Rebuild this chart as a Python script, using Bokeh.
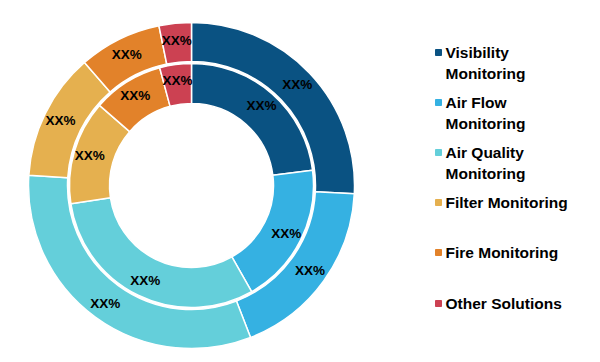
import math
from bokeh.plotting import figure
from bokeh.models import Range1d, ColumnDataSource
from bokeh.core.properties import value
from bokeh.embed import file_html
from bokeh.resources import INLINE

categories = ["Visibility Monitoring", "Air Flow Monitoring", "Air Quality Monitoring",
              "Filter Monitoring", "Fire Monitoring", "Other Solutions"]
legend_lines = [["Visibility", "Monitoring"], ["Air Flow", "Monitoring"], ["Air Quality", "Monitoring"],
                ["Filter Monitoring"], ["Fire Monitoring"], ["Other Solutions"]]
colors = ["#0A5282", "#35B1E2", "#64CFDA", "#E5B04F", "#E2822A", "#CC4152"]
outer_share = [25.8, 18.3, 31.9, 12.6, 8.2, 3.2]
inner_share = [23.0, 18.8, 30.8, 13.8, 9.4, 4.2]
outer_labels = ["XX%"] * 6
inner_labels = ["XX%"] * 6

W, H = 592, 354
cx, cy = 191, 169
R_OUT, R_MID_O, R_MID_I, R_IN = 163, 124, 122, 82

p = figure(width=W, height=H, output_backend="svg", toolbar_location=None,
           x_range=Range1d(0, W), y_range=Range1d(0, H), min_border=0)
p.axis.visible = False
p.grid.visible = False
p.outline_line_color = None
p.background_fill_color = "white"
p.border_fill_color = "white"


def ring(shares, r_in, r_out, lab_r, labels):
    tot = sum(shares)
    starts, ends, mids = [], [], []
    c = 0.0
    for s in shares:
        a0 = math.pi / 2 - 2 * math.pi * c / tot
        c += s
        a1 = math.pi / 2 - 2 * math.pi * c / tot
        starts.append(a0)
        ends.append(a1)
        mids.append((a0 + a1) / 2)
    src = ColumnDataSource(dict(start=starts, end=ends, color=colors))
    p.annular_wedge(x=cx, y=cy, inner_radius=r_in, outer_radius=r_out,
                    start_angle="start", end_angle="end", direction="clock",
                    fill_color="color", line_color="white", line_width=1.5, source=src)
    lx = [cx + lab_r * math.cos(m) for m in mids]
    ly = [cy + lab_r * math.sin(m) for m in mids]
    p.text(x=lx, y=ly, text=labels, text_align="center", text_baseline="middle",
           text_font=value("Liberation Sans"), text_font_style="bold",
           text_font_size="13.5px", text_color="black")


ring(outer_share, R_MID_O, R_OUT, 146, outer_labels)
ring(inner_share, R_IN, R_MID_I, 106, inner_labels)

# legend
lg_x = 438
first_y = [302, 252, 202, 152, 102, 51]
line_gap = 20.5
for i, (lines, col) in enumerate(zip(legend_lines, colors)):
    y0 = first_y[i]
    p.scatter(x=[lg_x], y=[y0], marker="square", size=6, fill_color=col, line_color=col)
    p.text(x=[lg_x + 7] * len(lines), y=[y0 - k * line_gap for k in range(len(lines))],
           text=lines, text_align="left", text_baseline="middle",
           text_font=value("Liberation Sans"), text_font_style="bold",
           text_font_size="15.5px", text_color="black")

open("out.html", "w").write(file_html(p, INLINE))
